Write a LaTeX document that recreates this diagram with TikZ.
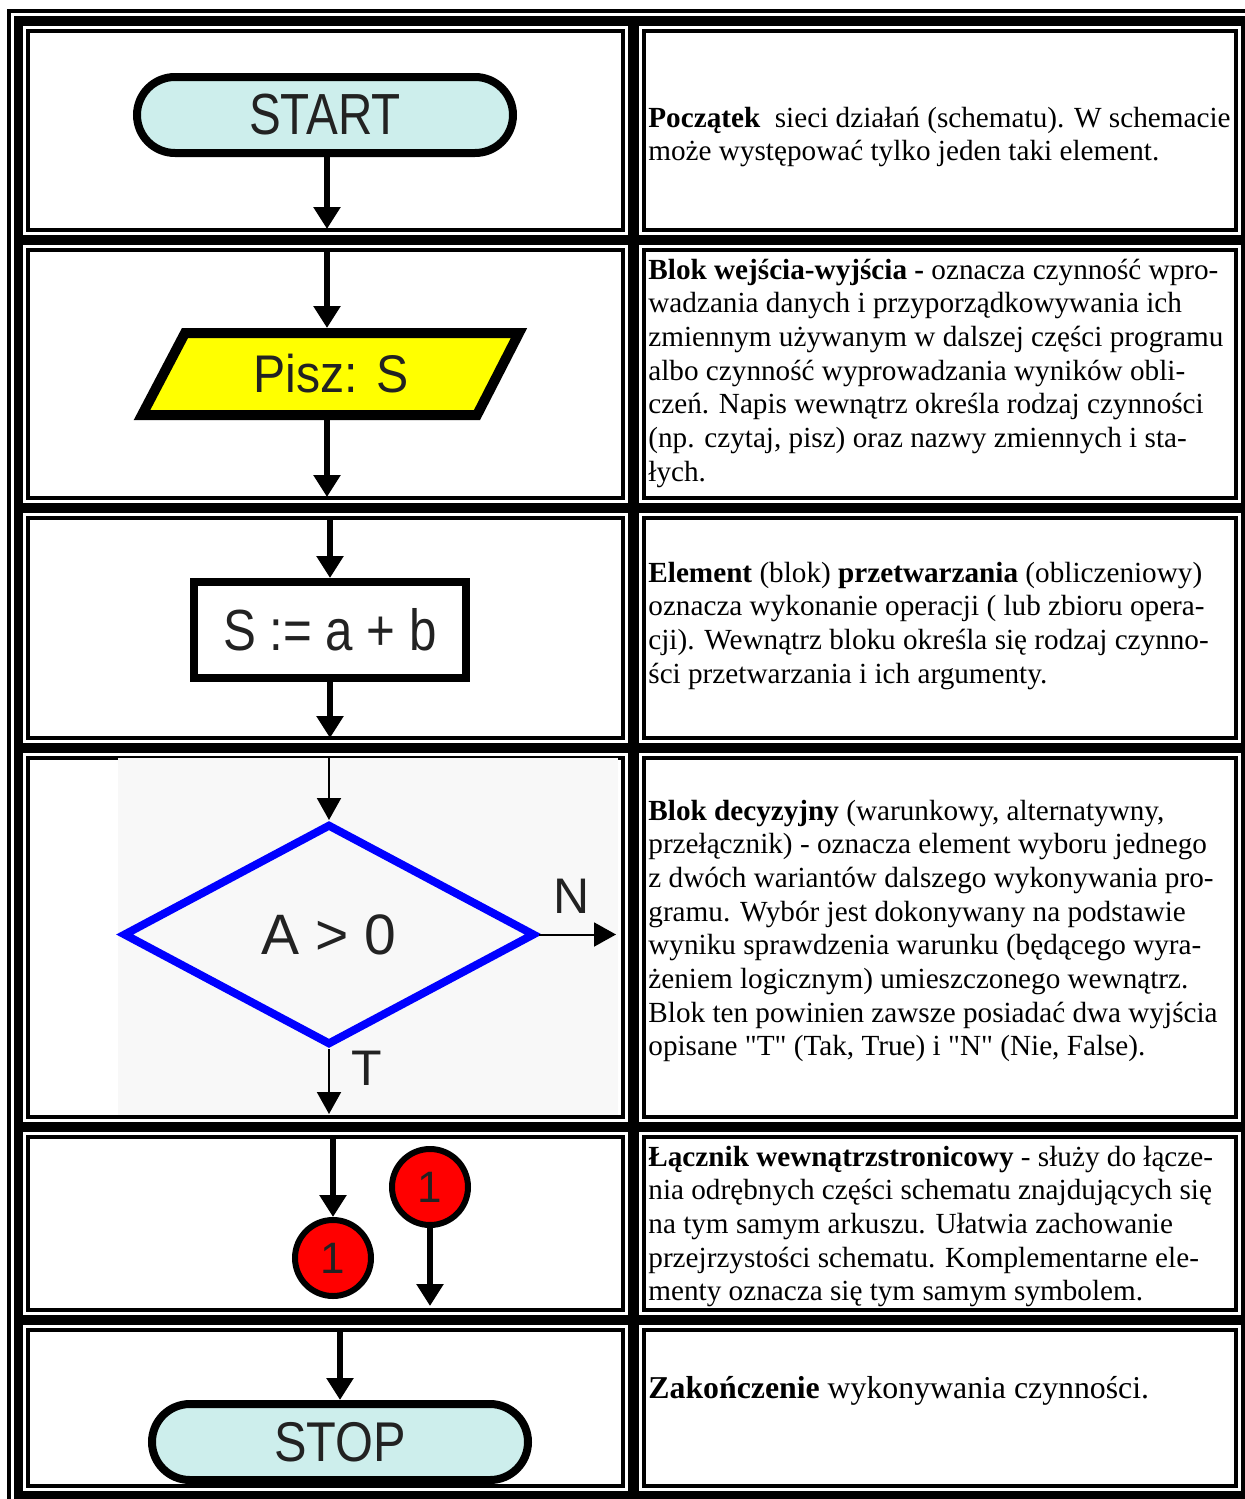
\documentclass[tikz,border=0pt]{standalone}
\usepackage{fontspec}
\usepackage{graphicx}
\setmainfont{Liberation Serif}
\newfontfamily\shapefont{Liberation Sans}
\usetikzlibrary{arrows.meta,shapes.misc,shapes.geometric}

\definecolor{termfill}{RGB}{205,238,236}
\definecolor{labelgray}{RGB}{34,34,34}
\definecolor{iofill}{RGB}{255,255,0}
\definecolor{decblue}{RGB}{0,0,255}
\definecolor{connred}{RGB}{255,0,0}
\definecolor{imgbg}{RGB}{248,248,248}

% one table cell: white field with an inset black frame
\newcommand\cellbox[4]{%
  \fill[white] (#1,#2) rectangle (#3,#4);
  \draw[line width=2pt] ({#1+5},{#2+5}) rectangle ({#3-5},{#4-5});}

% sans-serif label inside a flowchart symbol: size, horizontal scale, text
\newcommand\shapetext[3]{{\shapefont\fontsize{#1}{#1}\selectfont\scalebox{#2}[1]{#3}}}

% description text in the right column (optional font size)
\newcommand\desctext[2][14.6pt]{\parbox[t]{298pt}{\raggedright\fontsize{#1}{16.85pt}\selectfont #2}}

\tikzset{
  flow/.style={line width=3pt,-{Triangle[width=13pt,length=11pt]}},
  thinflow/.style={line width=1pt,-{Triangle[width=12pt,length=11pt]}},
  terminal/.style={rounded rectangle,draw=black,line width=4pt,fill=termfill,
    minimum width=188pt,minimum height=38pt,inner sep=0pt,text=labelgray},
  procbox/.style={rectangle,draw=black,line width=4pt,fill=white,
    minimum width=136pt,minimum height=48pt,inner sep=0pt,text=labelgray},
  decision/.style={diamond,draw=decblue,line width=4pt,
    minimum width=206pt,minimum height=110.5pt,inner sep=0pt,text=labelgray},
  connector/.style={circle,draw=black,line width=3pt,fill=connred,
    minimum size=38pt,inner sep=0pt,text=labelgray},
  iobox/.style={draw=black,line width=5pt,fill=iofill,line join=miter},
  plainlabel/.style={inner sep=0pt,text=labelgray},
  desc/.style={anchor=base west,inner sep=0pt}
}

\begin{document}
\begin{tikzpicture}[x=0.5pt,y=-0.5pt]
\useasboundingbox (0,0) rectangle (1245,1499);

% table frame
\fill[black] (14,16) rectangle (1245,1499);
\fill[black] (7,9) rectangle (1245,13);
\fill[black] (7,9) rectangle (11,1499);

% cells, left and right column
\cellbox{23}{26}{628}{235}    \cellbox{639}{26}{1241}{235}
\cellbox{23}{245}{628}{503}   \cellbox{639}{245}{1241}{503}
\cellbox{23}{513}{628}{743}   \cellbox{639}{513}{1241}{743}
\cellbox{23}{753}{628}{1122}  \cellbox{639}{753}{1241}{1122}
\cellbox{23}{1132}{628}{1315} \cellbox{639}{1132}{1241}{1315}
\cellbox{23}{1325}{628}{1491} \cellbox{639}{1325}{1241}{1491}

% --- row 1: start
\node[terminal] (start) at (325,115) {\shapetext{29pt}{0.82}{START}};
\coordinate (r1out) at (327,229);
\draw[flow] (start.south -| r1out) -- (r1out);

% --- row 2: input/output
\coordinate (ioTL) at (185,333);
\coordinate (ioTR) at (519,333);
\coordinate (ioBR) at (477,415);
\coordinate (ioBL) at (142,415);
\filldraw[iobox] (ioTL) -- (ioTR) -- (ioBR) -- (ioBL) -- cycle;
\node[plainlabel] (io) at (331,374) {\shapetext{26.5pt}{0.91}{Pisz: S}};
\coordinate (r2in) at (327,251);
\coordinate (ioN) at (327,328);
\coordinate (ioS) at (327,420);
\coordinate (r2out) at (327,497);
\draw[flow] (r2in) -- (ioN);
\draw[flow] (ioS) -- (r2out);

% --- row 3: process
\node[procbox] (proc) at (330,630) {\shapetext{29pt}{0.85}{S := a + b}};
\coordinate (r3in) at (330,517);
\coordinate (r3out) at (330,738);
\draw[flow] (r3in) -- (proc.north);
\draw[flow] (proc.south) -- (r3out);

% --- row 4: decision
\fill[imgbg] (118,758) rectangle (618,1115);
\node[decision] (dec) at (329,934.5) {\shapetext{28.5pt}{1}{A > 0}};
\coordinate (r4in) at (329,758);
\coordinate (r4N) at (616,934.5);
\coordinate (r4T) at (329,1114);
\draw[thinflow] (r4in) -- (dec.north);
\draw[thinflow] (dec.east) -- (r4N);
\draw[thinflow] (dec.south) -- (r4T);
\node[plainlabel] (labN) at (572,896) {\shapetext{25pt}{1}{N}};
\node[plainlabel] (labT) at (367,1068) {\shapetext{25pt}{1}{T}};

% --- row 5: on-page connectors
\node[connector] (c1) at (333,1258) {\shapetext{22pt}{1}{1}};
\node[connector] (c2) at (430,1187) {\shapetext{22pt}{1}{1}};
\coordinate (r5in) at (333,1138);
\coordinate (r5out) at (430,1306);
\draw[flow] (r5in) -- (c1.north);
\draw[flow] (c2.south) -- (r5out);

% --- row 6: stop
\node[terminal] (stop) at (340,1442) {\shapetext{28pt}{0.87}{STOP}};
\coordinate (r6in) at (340,1332);
\draw[flow] (r6in) -- (stop.north);

% --- descriptions
\node[desc] (d1) at (648,127) {\desctext{%
\textbf{Początek}\ \ sieci działań (schematu). W schemacie\\
może występować tylko jeden taki element.}};

\node[desc] (d2) at (648,279) {\desctext{%
\textbf{Blok wejścia-wyjścia -} oznacza czynność wpro-\\
wadzania danych i przyporządkowywania ich\\
zmiennym używanym w dalszej części programu\\
albo czynność wyprowadzania wyników obli-\\
czeń. Napis wewnątrz określa rodzaj czynności\\
(np. czytaj, pisz) oraz nazwy zmiennych i sta-\\
łych.}};

\node[desc] (d3) at (648,582) {\desctext{%
\textbf{Element} (blok) \textbf{przetwarzania} (obliczeniowy)\\
oznacza wykonanie operacji ( lub zbioru opera-\\
cji). Wewnątrz bloku określa się rodzaj czynno-\\
ści przetwarzania i ich argumenty.}};

\node[desc] (d4) at (648,820) {\desctext{%
\textbf{Blok decyzyjny} (warunkowy, alternatywny,\\
przełącznik) - oznacza element wyboru jednego\\
z dwóch wariantów dalszego wykonywania pro-\\
gramu. Wybór jest dokonywany na podstawie\\
wyniku sprawdzenia warunku (będącego wyra-\\
żeniem logicznym) umieszczonego wewnątrz.\\
Blok ten powinien zawsze posiadać dwa wyjścia\\
opisane \textquotedbl T\textquotedbl{} (Tak, True) i \textquotedbl N\textquotedbl{} (Nie, False).}};

\node[desc] (d5) at (648,1166) {\desctext{%
\textbf{Łącznik wewnątrzstronicowy} - służy do łącze-\\
nia odrębnych części schematu znajdujących się\\
na tym samym arkuszu. Ułatwia zachowanie\\
przejrzystości schematu. Komplementarne ele-\\
menty oznacza się tym samym symbolem.}};

\node[desc] (d6) at (648,1398) {\desctext[15.9pt]{%
\textbf{Zakończenie} wykonywania czynności.}};
\end{tikzpicture}
\end{document}
